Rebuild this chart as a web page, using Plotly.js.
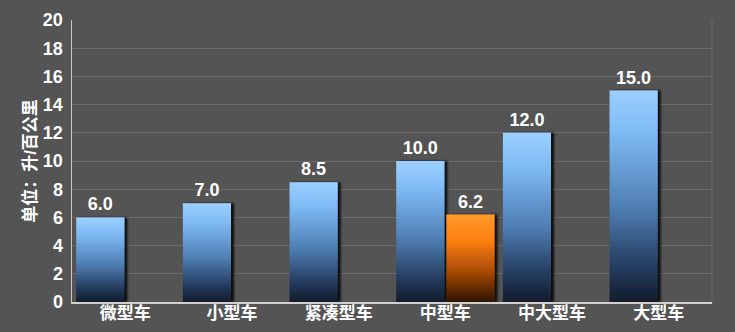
<!DOCTYPE html>
<html><head><meta charset="utf-8">
<script src="https://cdn.plot.ly/plotly-3.0.1.min.js"></script>
<style>body{margin:0;background:#545454;}#c{width:735px;height:332px;}</style>
</head><body><div id="c"></div>
<script>
const categories = ['微型车','小型车','紧凑型车','中型车','中大型车','大型车'];
const seriesMain = [6.0, 7.0, 8.5, 10.0, 12.0, 15.0];
const seriesHighlight = [null, null, null, 6.2, null, null];
const yTicks = [0,2,4,6,8,10,12,14,16,18,20];

const FONT = 'Liberation Sans, Arial, Noto Sans CJK SC, sans-serif';
const CJK = 'Liberation Sans, Noto Sans CJK SC, sans-serif';

const traces = [
  {type:'bar', x:categories, y:seriesMain, marker:{color:'#6aa6e6', line:{width:0}},
   texttemplate:'%{y:.1f}', textposition:'outside', cliponaxis:false,
   textfont:{family:FONT, size:18, color:'#ffffff', weight:'bold'}, hoverinfo:'none'},
  {type:'bar', x:categories, y:seriesHighlight, marker:{color:'#ff8a1a', line:{width:0}},
   texttemplate:'%{y:.1f}', textposition:'outside', cliponaxis:false,
   textfont:{family:FONT, size:18, color:'#ffffff', weight:'bold'}, hoverinfo:'none'}
];

const layout = {
  width:735, height:332,
  paper_bgcolor:'#545454', plot_bgcolor:'#545454',
  margin:{l:72, r:23, t:20, b:30},
  barmode:'group', bargap:0.06, bargroupgap:0.04,
  showlegend:false,
  xaxis:{type:'category', range:[-0.5,5.5], showgrid:false, showline:true, linecolor:'#d0d0d0', linewidth:1.5,
    ticks:'', tickfont:{family:CJK, size:17, color:'#ffffff', weight:'bold'}, ticklabelstandoff:-5, fixedrange:true},
  yaxis:{range:[0,20], tickvals:yTicks, showgrid:true, gridcolor:'#6a6a6a', gridwidth:1,
    showline:true, linecolor:'#c8c8c8', linewidth:1.5, zeroline:false, ticks:'',
    tickfont:{family:FONT, size:18, color:'#ffffff', weight:'bold'}, ticklabelstandoff:4,
    title:{text:'单位：升/百公里', font:{family:CJK, size:17, color:'#ffffff', weight:'bold'}, standoff:2},
    fixedrange:true},
  shapes:[{type:'line', xref:'paper', yref:'paper', x0:1, x1:1, y0:0, y1:1, line:{color:'#686868', width:1}}]
};

Plotly.newPlot('c', traces, layout, {staticPlot:true, displayModeBar:false}).then(function(gd){
  const svg = gd.querySelector('svg.main-svg');
  const ns = 'http://www.w3.org/2000/svg';
  let defs = svg.querySelector('defs');
  function grad(id, stops){
    const g = document.createElementNS(ns,'linearGradient');
    g.setAttribute('id', id); g.setAttribute('x1','0'); g.setAttribute('y1','0'); g.setAttribute('x2','0'); g.setAttribute('y2','1');
    stops.forEach(s=>{const st=document.createElementNS(ns,'stop'); st.setAttribute('offset',s[0]); st.setAttribute('stop-color',s[1]); g.appendChild(st);});
    defs.appendChild(g);
  }
  grad('gBlue', [['0','#9bd0ff'],['0.2','#7fbaf4'],['0.55','#4f7fb4'],['0.85','#22385a'],['1','#121c2c']]);
  grad('gOrange', [['0','#ff9a2a'],['0.3','#ff7f10'],['0.65','#a84a05'],['1','#2e1400']]);
  const f = document.createElementNS(ns,'filter');
  f.setAttribute('id','shadow'); f.setAttribute('x','-10%'); f.setAttribute('y','-5%'); f.setAttribute('width','130%'); f.setAttribute('height','110%');
  const ds = document.createElementNS(ns,'feDropShadow');
  ds.setAttribute('dx','3'); ds.setAttribute('dy','0'); ds.setAttribute('stdDeviation','1'); ds.setAttribute('flood-color','#000'); ds.setAttribute('flood-opacity','0.85');
  f.appendChild(ds); defs.appendChild(f);
  const tr = gd.querySelectorAll('.barlayer .trace');
  tr.forEach((t,i)=>{
    t.querySelectorAll('path').forEach(p=>{p.style.fill = i===0 ? 'url(#gBlue)' : 'url(#gOrange)'; p.setAttribute('filter','url(#shadow)');});
  });
});
</script></body></html>
